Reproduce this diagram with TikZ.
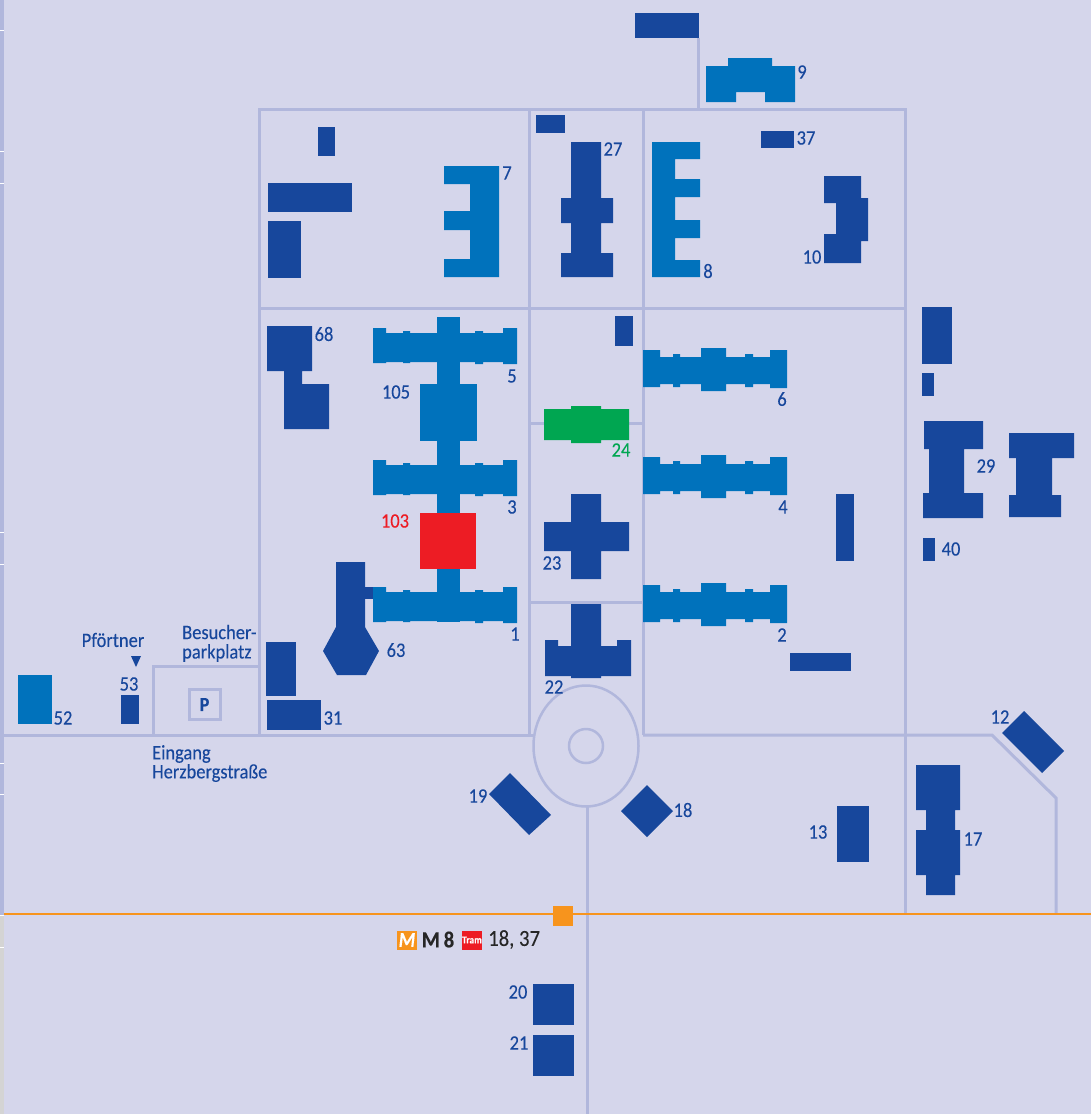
\documentclass[tikz,border=0pt]{standalone}
\usepackage{fontspec}
\setmainfont[FakeStretch=0.9,FakeBold=0.15]{Carlito}
\definecolor{bgc}{HTML}{D5D6EB}
\definecolor{road}{HTML}{B1B7DC}
\definecolor{dark}{HTML}{17479C}
\definecolor{mid}{HTML}{0072BC}
\definecolor{grn}{HTML}{00A651}
\definecolor{redb}{HTML}{ED1C24}
\definecolor{org}{HTML}{F7941D}
\tikzset{
  roadline/.style={draw=road,line width=3pt,line join=miter},
  bd/.style={fill=dark},
  bm/.style={fill=mid},
  lbl/.style={text=dark,inner sep=0pt,font=\fontsize{20.5}{23}\selectfont},
  lbll/.style={lbl,anchor=west},
}
\newcommand{\wingL}[1]{%
\fill[bm,shift={(0,#1)}] (373,328)--(386,328)--(386,333)--(403,333)--(403,331)--(410,331)--(410,333)--(437,333)--(437,333)--(460,333)--(475,333)--(475,331)--(483,331)--(483,333)--(503,333)--(503,328)--(517,328)--(517,364)--(503,364)--(503,362)--(483,362)--(483,364)--(475,364)--(475,362)--(460,362)--(437,362)--(410,362)--(410,363)--(403,363)--(403,362)--(386,362)--(386,363)--(373,363)--cycle;}
\newcommand{\wingR}[1]{%
\fill[bm,shift={(0,#1)}] (643,350)--(660,350)--(660,357)--(673,357)--(673,354)--(680,354)--(680,357)--(701,357)--(701,348)--(726,348)--(726,357)--(745,357)--(745,354)--(753,354)--(753,357)--(770,357)--(770,350)--(787,350)--(787,388)--(770,388)--(770,384)--(753,384)--(753,387)--(745,387)--(745,384)--(726,384)--(726,391)--(701,391)--(701,384)--(680,384)--(680,387)--(673,387)--(673,384)--(660,384)--(660,387)--(643,387)--cycle;}
\begin{document}
\begin{tikzpicture}[x=1pt,y=-1pt]
\useasboundingbox (0,0) rectangle (1091,1114);
\fill[bgc] (0,0) rectangle (1091,1114);
% left band
\fill[road] (0,0) rectangle (4,915);
\fill[black!17] (0,915) rectangle (4,1114);
\foreach \ty in {30,151,183,532,564,763,794,915,947}
  \fill[white] (0,\ty-0.5) rectangle (4,\ty+0.5);
% roads
\draw[roadline] (259.5,109.5) rectangle (905.5,308);
\draw[roadline] (529,110)--(529,735);
\draw[roadline] (643,110)--(643,735);
\draw[roadline] (259.5,308)--(259.5,735);
\draw[roadline] (905.5,308)--(905.5,914);
\draw[roadline] (698,38)--(698,110);
\draw[roadline] (529,423)--(643,423);
\draw[roadline] (529,602)--(643,602);
\draw[roadline] (4,735)--(533,735);
\draw[roadline] (643,735)--(992,735)--(1056,798)--(1056,914);
\draw[roadline] (153,735)--(153,666)--(260,666);
\draw[roadline] (189,689.5) rectangle (220,719.5);
\fill[bgc] (586,746) ellipse [x radius=52.5,y radius=60.5];
\draw[roadline,line width=2.5pt] (586,746) ellipse [x radius=52.5,y radius=60.5];
\draw[roadline,line width=2.5pt] (586,746) circle [radius=17];
\draw[roadline] (587.5,807)--(587.5,1114);
% tram line
\draw[org,line width=2pt] (4,914)--(1091,914);
\fill[org] (553,906) rectangle (573,926);
% north
\fill[bd] (635,13) rectangle (699,38);
\fill[bm] (706,66)--(728,66)--(728,58)--(772,58)--(772,66)--(795,66)--(795,102)--(765,102)--(765,92)--(736,92)--(736,102)--(706,102)--cycle;
% top-left block
\fill[bd] (318,127) rectangle (335,156);
\fill[bd] (268,183) rectangle (352,212);
\fill[bd] (268,221) rectangle (301,278);
\fill[bm] (444,166)--(499,166)--(499,277)--(444,277)--(444,259)--(470,259)--(470,230)--(444,230)--(444,211)--(470,211)--(470,184)--(444,184)--cycle;
% 27
\fill[bd] (536,115) rectangle (565,133);
\fill[bd] (571,142)--(601,142)--(601,198)--(613,198)--(613,223)--(601,223)--(601,253)--(613,253)--(613,277)--(561,277)--(561,253)--(571,253)--(571,223)--(561,223)--(561,198)--(571,198)--cycle;
% 8
\fill[bm] (652,142)--(700,142)--(700,159)--(675,159)--(675,179)--(700,179)--(700,197)--(675,197)--(675,220)--(700,220)--(700,238)--(675,238)--(675,260)--(700,260)--(700,277)--(652,277)--cycle;
\fill[bd] (761,131) rectangle (794,148);
% 10
\fill[bd] (824,176)--(861,176)--(861,198)--(868,198)--(868,241)--(861,241)--(861,263)--(824,263)--(824,234)--(836,234)--(836,203)--(824,203)--cycle;
% 68
\fill[bd] (267,326)--(312,326)--(312,371)--(302,371)--(302,384)--(329,384)--(329,429)--(284,429)--(284,371)--(267,371)--cycle;
% central complex
\fill[bd] (365,587) rectangle (375,599);
\fill[bm] (437,317) rectangle (460,622);
\wingL{0}
\wingL{132}
\wingL{259}
\fill[bm] (420,384) rectangle (477,441);
\fill[redb] (420,513) rectangle (476,569);
% 63
\fill[bd] (336,562)--(365,562)--(365,627)--(379,651)--(366,675)--(337,675)--(323,651)--(336,627)--cycle;
\fill[bd] (266,642) rectangle (296,696);
\fill[bd] (266.500,699.500) rectangle (321,729.500);
% centre column
\fill[bd] (615,316) rectangle (633,346);
\fill[grn] (544,409)--(571,409)--(571,406)--(601,406)--(601,409)--(629,409)--(629,440)--(601,440)--(601,443)--(571,443)--(571,440)--(544,440)--cycle;
\fill[bd] (571,494)--(601,494)--(601,522)--(629,522)--(629,551)--(601,551)--(601,579)--(571,579)--(571,551)--(544,551)--(544,522)--(571,522)--cycle;
\fill[bd] (571,604)--(601,604)--(601,646)--(617,646)--(617,640)--(631,640)--(631,676)--(601,676)--(601,678)--(571,678)--(571,676)--(545,676)--(545,640)--(558,640)--(558,646)--(571,646)--cycle;
% east wings
\wingR{0}
\wingR{107}
\wingR{235}
\fill[bd] (836,494) rectangle (854,561);
\fill[bd] (790,653) rectangle (851,671);
% far east
\fill[bd] (922,307) rectangle (952,364);
\fill[bd] (922,373) rectangle (934,396);
\fill[bd] (924,421)--(983,421)--(983,449)--(964,449)--(964,493)--(983,493)--(983,518)--(923,518)--(923,493)--(929,493)--(929,449)--(924,449)--cycle;
\fill[bd] (1009,433)--(1074,433)--(1074,458)--(1052,458)--(1052,495)--(1061,495)--(1061,517)--(1009,517)--(1009,495)--(1016,495)--(1016,458)--(1009,458)--cycle;
\fill[bd] (923,538) rectangle (935,561);
% south east
\fill[bd] (1024,711)--(1064,751)--(1042,773)--(1002,733)--cycle;
\fill[bd] (916,765)--(960,765)--(960,810)--(955,810)--(955,830)--(960,830)--(960,875)--(955,875)--(955,895)--(926,895)--(926,875)--(916,875)--(916,830)--(926,830)--(926,810)--(916,810)--cycle;
\fill[bd] (837,806) rectangle (869,862);
\fill[bd] (510,773)--(551,815)--(529,835)--(489,794)--cycle;
\fill[bd] (647,785)--(673,811)--(647,837)--(621,811)--cycle;
\fill[bd] (533,984) rectangle (574,1025);
\fill[bd] (533,1035) rectangle (574,1076);
% west
\fill[bm] (18,675) rectangle (52,724);
\fill[bd] (121,695) rectangle (139,724);
\fill[bd] (131,656)--(141,656)--(136,667)--cycle;
% labels
\node[lbl] (l9) at (802,72) {9};
\node[lbl] (l7) at (507,173) {7};
\node[lbl] (l27) at (613,149) {27};
\node[lbl] (l37) at (806,138) {37};
\node[lbl] (l8) at (708,271) {8};
\node[lbl] (l10) at (812,257) {10};
\node[lbl] (l68) at (324,334) {68};
\node[lbl] (l5) at (512,376) {5};
\node[lbl] (l105) at (396,392) {105};
\node[lbl] (l3) at (512,507) {3};
\node[lbl,text=redb] (l103) at (395,521) {103};
\node[lbl] (l1) at (515,634) {1};
\node[lbl] (l63) at (396,650) {63};
\node[lbl] (l31) at (333,718) {31};
\node[lbl] (l6) at (782,399) {6};
\node[lbl] (l4) at (783,507) {4};
\node[lbl] (l2) at (782,635) {2};
\node[lbl,text=grn] (l24) at (621,450) {24};
\node[lbl] (l23) at (552,563) {23};
\node[lbl] (l22) at (554,687) {22};
\node[lbl] (l29) at (986,466) {29};
\node[lbl] (l40) at (951,549) {40};
\node[lbl] (l12) at (1000,717) {12};
\node[lbl] (l17) at (973,839) {17};
\node[lbl] (l13) at (818,832) {13};
\node[lbl] (l19) at (478,796) {19};
\node[lbl] (l18) at (683,810) {18};
\node[lbl] (l20) at (518,992) {20};
\node[lbl] (l21) at (519,1043) {21};
\node[lbl] (l52) at (63,718) {52};
\node[lbl] (l53) at (129,684) {53};
\node[lbl] (lpf) at (113,640) {Pförtner};
\node[lbll] (lbe) at (182,632) {Besucher-};
\node[lbll] (lpa) at (182,653) {parkplatz};
\node[lbll] (lei) at (152,754) {Eingang};
\node[lbll] (lhe) at (152,773) {Herzbergstraße};
\node[lbl,font=\fontsize{20}{22}\selectfont\bfseries] (lp) at (204.500,704.500) {P};
% transit legend
\node[fill=org,minimum width=20pt,minimum height=19pt,inner sep=0pt,text=white,font=\fontsize{21}{22}\selectfont\bfseries\itshape] (mbox) at (407,940) {M};
\node[fill=redb,minimum width=20pt,minimum height=19pt,inner sep=0pt,text=white,font=\fontsize{10.5}{11}\selectfont\bfseries] (tbox) at (472,940) {Tram};
\node[inner sep=0pt,text=black!85,font=\fontsize{23}{25}\selectfont\bfseries] (lm8) at (438,939.500) {M\,8};
\node[inner sep=0pt,text=black!85,font=\fontsize{23}{25}\selectfont,anchor=west] (l1837) at (488,939.500) {18, 37};
\end{tikzpicture}
\end{document}
